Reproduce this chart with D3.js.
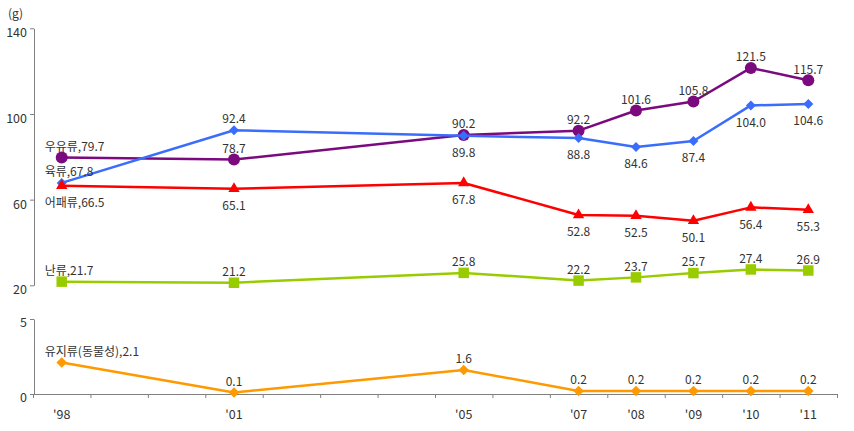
<!DOCTYPE html>
<html><head><meta charset="utf-8">
<script src="https://cdn.jsdelivr.net/npm/d3@7"></script>
<style>
body{margin:0;background:#fff;}
svg{display:block;}
text{font-family:"Noto Sans CJK KR","Noto Sans",sans-serif;}
</style></head>
<body>
<svg id="chart" width="854" height="431"></svg>
<script>
const years = [1998, 2001, 2005, 2007, 2008, 2009, 2010, 2011];
const yearLabels = ["'98", "'01", "'05", "'07", "'08", "'09", "'10", "'11"];
const slotYears = d3.range(1998, 2012);

const milkValues = [79.7, 78.7, 90.2, 92.2, 101.6, 105.8, 121.5, 115.7];
const meatValues = [67.8, 92.4, 89.8, 88.8, 84.6, 87.4, 104.0, 104.6];
const fishValues = [66.5, 65.1, 67.8, 52.8, 52.5, 50.1, 56.4, 55.3];
const eggValues = [21.7, 21.2, 25.8, 22.2, 23.7, 25.7, 27.4, 26.9];
const fatValues = [2.1, 0.1, 1.6, 0.2, 0.2, 0.2, 0.2, 0.2];

const topTicks = [20, 60, 100, 140];
const bottomTicks = [0, 5];
const unitLabel = "(g)";

const seriesTop = [
  {name: "우유류", values: milkValues, color: "#7a0a7e", symbol: "circle", label: ["a","a","a","a","a","a","a","a"]},
  {name: "육류", values: meatValues, color: "#3a6dfc", symbol: "diamond", label: ["a","a","b","b","b","b","b","b"]},
  {name: "어패류", values: fishValues, color: "#ff0000", symbol: "triangle", label: ["b","b","b","b","b","b","b","b"]},
  {name: "난류", values: eggValues, color: "#99cc00", symbol: "square", label: ["a","a","a","a","a","a","a","a"]}
];
const seriesBottom = [
  {name: "유지류(동물성)", values: fatValues, color: "#ff9900", symbol: "diamond2", label: ["a","a","a","a","a","a","a","a"]}
];

const svg = d3.select("#chart");
const axisColor = "#808080";
const textColor = "#333";

const xSlot = d3.scaleBand().domain(slotYears).range([33, 837]).padding(0);
const xPos = y => xSlot(y) + xSlot.bandwidth() / 2;
const xEdge = d3.scaleLinear().domain([0, slotYears.length]).range([33, 837]);

const yTop = d3.scaleLinear().domain([20, 140]).range([285.3, 28.3]);
const yBot = d3.scaleLinear().domain([0, 5]).range([394, 319]);

function styleAxis(g) {
  g.selectAll("path,line").attr("stroke", axisColor);
  g.selectAll("text").attr("fill", textColor).style("font-size", "12.5px");
}

// top y axis
svg.append("g").attr("transform", "translate(34,0)")
  .call(d3.axisLeft(yTop).tickValues(topTicks).tickFormat(d3.format("d")).tickSize(4).tickSizeOuter(0).tickPadding(3))
  .call(styleAxis)
  .call(g => g.selectAll("text").attr("dy", "0.68em"));

// bottom y axis
svg.append("g").attr("transform", "translate(34,0)")
  .call(d3.axisLeft(yBot).tickValues(bottomTicks).tickFormat(d3.format("d")).tickSize(4).tickSizeOuter(0).tickPadding(3))
  .call(styleAxis)
  .call(g => g.selectAll("text").attr("dy", "0.6em"));

// x axis (slot boundaries)
svg.append("g").attr("transform", "translate(0,394)")
  .call(d3.axisBottom(xEdge).tickValues(d3.range(0, slotYears.length + 1)).tickFormat("").tickSize(4).tickSizeOuter(0))
  .call(styleAxis);

svg.append("g").selectAll("text").data(years).join("text")
  .attr("x", d => xPos(d)).attr("y", 419)
  .attr("text-anchor", "middle").attr("fill", textColor).style("font-size", "12.5px")
  .text((d, i) => yearLabels[i]);

svg.append("text").attr("x", 8).attr("y", 18).attr("fill", textColor)
  .style("font-size", "12px").text(unitLabel);

function symbolPath(kind) {
  if (kind === "circle") return d3.symbol(d3.symbolCircle, Math.PI * 36)();
  if (kind === "triangle") return d3.symbol(d3.symbolTriangle, 56)();
  if (kind === "square") return d3.symbol(d3.symbolSquare, 110)();
  if (kind === "diamond") return d3.symbol(d3.symbolSquare, 50)();
  return d3.symbol(d3.symbolSquare, 56)();
}

function drawSeries(list, yScale) {
  list.forEach(s => {
    const pts = s.values.map((v, i) => ({x: xPos(years[i]), y: yScale(v), v, i}));
    svg.append("path").datum(pts)
      .attr("fill", "none").attr("stroke", s.color).attr("stroke-width", 2.5)
      .attr("stroke-linejoin", "round")
      .attr("d", d3.line().x(d => d.x).y(d => d.y));
    const rot = (s.symbol === "diamond" || s.symbol === "diamond2") ? " rotate(45)" : "";
    svg.append("g").selectAll("path").data(pts).join("path")
      .attr("d", symbolPath(s.symbol))
      .attr("transform", d => `translate(${d.x},${d.y})${rot}`)
      .attr("fill", s.color);
    svg.append("g").selectAll("text").data(pts).join("text")
      .attr("x", d => d.i === 0 ? d.x - 17 : d.x)
      .attr("y", d => s.label[d.i] === "a" ? d.y - 11 : d.y + 17)
      .attr("dy", "0.35em")
      .attr("text-anchor", d => d.i === 0 ? "start" : "middle")
      .attr("fill", textColor).style("font-size", "12px")
      .text(d => d.i === 0 ? `${s.name},${d.v.toFixed(1)}` : d.v.toFixed(1));
  });
}

drawSeries(seriesTop, yTop);
drawSeries(seriesBottom, yBot);
</script>
</body></html>
